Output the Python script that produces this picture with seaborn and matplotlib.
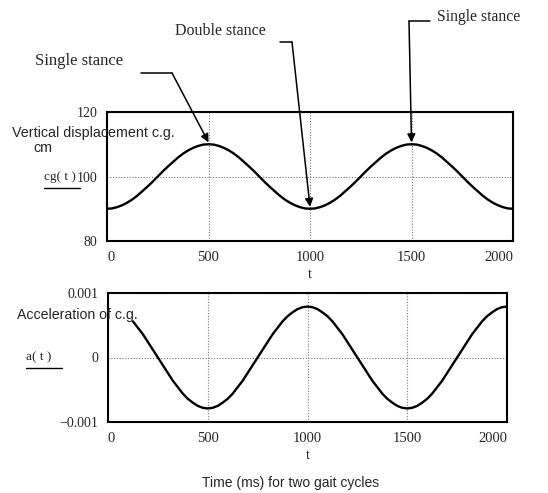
import matplotlib
matplotlib.use("Agg")
import matplotlib.pyplot as plt
from matplotlib.lines import Line2D
import pandas as pd
import seaborn as sns

# values, every 25 ms over one 1000 ms gait cycle
cg_cycle = [90.0, 90.1, 90.5, 91.1, 91.9, 92.9, 94.1, 95.5, 96.9, 98.4,
            100.0, 101.6, 103.1, 104.5, 105.9, 107.1, 108.1, 108.9, 109.5, 109.9,
            110.0, 109.9, 109.5, 108.9, 108.1, 107.1, 105.9, 104.5, 103.1, 101.6,
            100.0, 98.4, 96.9, 95.5, 94.1, 92.9, 91.9, 91.1, 90.5, 90.1]
acc_cycle = [0.79, 0.78, 0.75, 0.70, 0.64, 0.56, 0.46, 0.36, 0.24, 0.12,
             0.0, -0.12, -0.24, -0.36, -0.46, -0.56, -0.64, -0.70, -0.75, -0.78,
             -0.79, -0.78, -0.75, -0.70, -0.64, -0.56, -0.46, -0.36, -0.24, -0.12,
             0.0, 0.12, 0.24, 0.36, 0.46, 0.56, 0.64, 0.70, 0.75, 0.78]

t_all = list(range(0, 2001, 25))
cg_vals = cg_cycle + cg_cycle + [90.0]
# acceleration trace only starts at about t = 125 ms
acc_vals = [v * 1e-3 for v in (acc_cycle + acc_cycle + [0.79])]
t_acc = t_all[5:]
acc_vals = acc_vals[5:]

x_ticks = [0, 500, 1000, 1500, 2000]
x_tick_labels = ["0", "500", "1000", "1500", "2000"]
cg_ticks = [80, 100, 120]
cg_tick_labels = ["80", "100", "120"]
acc_ticks = [-0.001, 0, 0.001]
acc_tick_labels = ["\u22120.001", "0", "0.001"]

df_cg = pd.DataFrame({"t": t_all, "cg": cg_vals})
df_acc = pd.DataFrame({"t": t_acc, "a": acc_vals})

sns.set_style("white")
serif = ["Liberation Serif", "DejaVu Serif"]
sans = ["Liberation Sans", "DejaVu Sans"]

W, H = 548, 493
fig = plt.figure(figsize=(W / 100, H / 100), dpi=100)


def px(x, y):
    return (x / W, 1 - y / H)


ax1 = fig.add_axes([107 / W, 1 - 241 / H, 406 / W, 129 / H])
ax2 = fig.add_axes([108 / W, 1 - 422 / H, 399 / W, 129 / H])

sns.lineplot(data=df_cg, x="t", y="cg", ax=ax1, color="black", lw=1.7)
sns.lineplot(data=df_acc, x="t", y="a", ax=ax2, color="black", lw=1.7)

for ax, yt, ytl, ylim in [(ax1, cg_ticks, cg_tick_labels, (80, 120)),
                          (ax2, acc_ticks, acc_tick_labels, (-0.001, 0.001))]:
    ax.set_xlim(0, 2000)
    ax.set_ylim(*ylim)
    ax.set_xticks(x_ticks)
    labels = ax.set_xticklabels(x_tick_labels, family=serif, fontsize=10.5)
    labels[0].set_ha("left")
    labels[-1].set_ha("right")
    ax.set_yticks(yt)
    ax.set_yticklabels(ytl, family=serif, fontsize=10)
    ax.tick_params(length=0, pad=7)
    ax.grid(True, color="#777777", ls=(0, (1, 1.5)), lw=0.8)
    for s in ax.spines.values():
        s.set_color("black")
        s.set_linewidth(1.5)
    ax.set_xlabel("t", family=serif, fontsize=10, labelpad=3)
    ax.set_ylabel("")

# side labels
fig.text(*px(12, 133), "Vertical displacement c.g.", family=sans, fontsize=10.3, va="center")
fig.text(*px(33, 148), "cm", family=sans, fontsize=10.3, va="center")
fig.text(*px(44, 177), "cg( t )", family=serif, fontsize=9.5, va="center")
fig.add_artist(Line2D([44 / W, 80 / W], [1 - 188 / H] * 2, color="black", lw=1))
fig.text(*px(17, 315), "Acceleration of c.g.", family=sans, fontsize=10.2, va="center")
fig.text(*px(26, 357), "a( t )", family=serif, fontsize=9.5, va="center")
fig.add_artist(Line2D([26 / W, 62 / W], [1 - 368 / H] * 2, color="black", lw=1))
fig.text(*px(291, 483), "Time (ms) for two gait cycles", family=sans, fontsize=10,
         ha="center", va="center")

# stance annotations
notes = [
    ("Single stance", (35, 61), 12, (141, 73), (172, 73), (500, 110.6)),
    ("Double stance", (175, 31), 11.5, (280, 42), (292, 42), (1000, 90.6)),
    ("Single stance", (437, 17), 11.3, (430, 21), (409, 21), (1500, 110.6)),
]
for label, tpos, fs, h0, h1, target in notes:
    fig.text(*px(*tpos), label, family=serif, fontsize=fs, va="center")
    fig.add_artist(Line2D([h0[0] / W, h1[0] / W], [1 - h0[1] / H, 1 - h1[1] / H],
                          color="black", lw=1.1))
    ax1.annotate("", xy=target, xycoords="data", xytext=px(*h1),
                 textcoords="figure fraction",
                 arrowprops=dict(arrowstyle="-|>", color="black", lw=1.1,
                                 shrinkA=0, shrinkB=0, mutation_scale=12),
                 annotation_clip=False)

fig.savefig("out.png", dpi=100)
